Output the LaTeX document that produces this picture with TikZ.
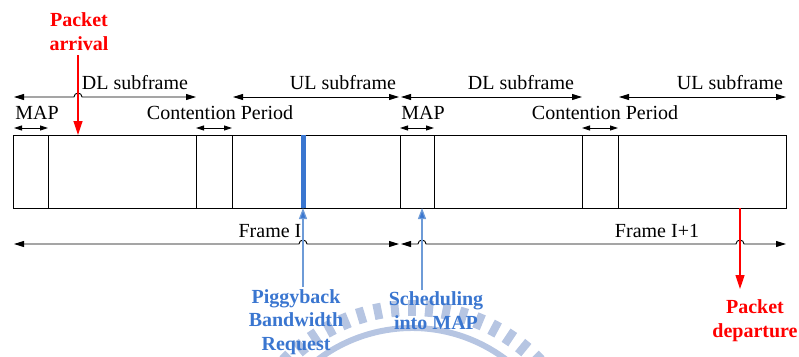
\documentclass[tikz,border=0pt]{standalone}
\usepackage{fontspec}
\setmainfont{Liberation Serif}
\usetikzlibrary{arrows.meta}
\definecolor{pktred}{RGB}{255,0,0}
\definecolor{reqblue}{RGB}{58,118,208}
\definecolor{reqline}{RGB}{110,155,215}
\definecolor{wmark}{RGB}{182,197,226}

\begin{document}
\begin{tikzpicture}[x=1pt,y=-1pt,
  lbl/.style={font={\fontsize{20}{24}\selectfont}, inner sep=0pt, anchor=base},
  note/.style={font={\bfseries\fontsize{20}{23.5}\selectfont}, inner sep=0pt, anchor=base, align=center},
  span/.style={line width=0.9pt, {Triangle[length=10pt,width=6pt]}-{Triangle[length=10pt,width=6pt]}},
  shortspan/.style={line width=0.9pt, {Triangle[length=8pt,width=5pt]}-{Triangle[length=8pt,width=5pt]}},
  cell/.style={draw, line width=1pt},
  redarrow/.style={draw=pktred, line width=1.2pt, -{Triangle[length=14pt,width=9pt]}, shorten >=0pt},
  bluearrow/.style={draw=reqline, line width=1.2pt, -{Triangle[length=11pt,width=8pt,fill=reqblue]}},
]
\useasboundingbox (0,0) rectangle (799,356);

% faded logo in the background
\begin{scope}
  \clip (0,0) rectangle (799,356);
  \foreach \i in {-9,...,9}
    \draw[wmark, line width=8pt] ([shift={(412,484)}]-90+\i*5.6:168) -- ([shift={(412,484)}]-90+\i*5.6:184);
  \draw[wmark, line width=6pt] ([shift={(412,484)}]-150:156) arc[start angle=-150, end angle=-30, radius=156];
\end{scope}

% frame cells
\coordinate (tl) at (13,135);
\coordinate (br) at (786,208);
\draw[cell] (tl) rectangle (br);
\foreach \x in {48,196,232,400,434,582,618}
  \draw[cell] (\x,135) -- (\x,208);

% piggyback request slot
\coordinate (bartop) at (303,135);
\coordinate (barbot) at (303,208);
\draw[reqblue, line width=5pt] (bartop) -- (barbot);

% subframe spans
\coordinate (dl1l) at (14,97);  \coordinate (dl1r) at (196,97);
\coordinate (ul1l) at (233,97); \coordinate (ul1r) at (399,97);
\coordinate (dl2l) at (401,97); \coordinate (dl2r) at (582,97);
\coordinate (ul2l) at (619,97); \coordinate (ul2r) at (786,97);
\draw[span] (dl1l) -- (74,97) arc[start angle=180, end angle=360, radius=4] -- (dl1r);
\draw[span] (ul1l) -- (ul1r);
\draw[span] (dl2l) -- (dl2r);
\draw[span] (ul2l) -- (ul2r);

\node[lbl] (dl1) at (135,89) {DL subframe};
\node[lbl] (ul1) at (343,89) {UL subframe};
\node[lbl] (dl2) at (521,89) {DL subframe};
\node[lbl] (ul2) at (730,89) {UL subframe};

% MAP and contention spans
\coordinate (m1l) at (14,128);  \coordinate (m1r) at (48,128);
\coordinate (c1l) at (196,128); \coordinate (c1r) at (232,128);
\coordinate (m2l) at (400,128); \coordinate (m2r) at (434,128);
\coordinate (c2l) at (582,128); \coordinate (c2r) at (618,128);
\draw[shortspan] (m1l) -- (m1r);
\draw[shortspan] (c1l) -- (c1r);
\draw[shortspan] (m2l) -- (m2r);
\draw[shortspan] (c2l) -- (c2r);

\node[lbl] (map1) at (37,119) {MAP};
\node[lbl] (cp1) at (220,119) {Contention Period};
\node[lbl] (map2) at (423,119) {MAP};
\node[lbl] (cp2) at (605,119) {Contention Period};

% frame spans
\coordinate (f1l) at (14,244);  \coordinate (f1r) at (399,244);
\coordinate (f2l) at (401,244); \coordinate (f2r) at (786,244);
\draw[span] (f1l) -- (299,244) arc[start angle=180, end angle=360, radius=4] -- (f1r);
\draw[span] (f2l) -- (418,244) arc[start angle=180, end angle=360, radius=4]
  -- (736,244) arc[start angle=180, end angle=360, radius=4] -- (f2r);

\node[lbl] (fr1) at (270,237) {Frame I};
\node[lbl] (fr2) at (657,237) {Frame I+1};

% events (multi-line labels are anchored at the baseline of their last line)
\node[note, text=pktred] (arr) at (79,50) {Packet\\arrival};
\coordinate (arrtop) at (78,55);
\coordinate (arrtip) at (78,135);
\draw[redarrow] (arrtop) -- (arrtip);

\node[note, text=pktred] (dep) at (755,337) {Packet\\departure};
\coordinate (deptop) at (740,208);
\coordinate (deptip) at (740,289);
\draw[redarrow] (deptop) -- (deptip);

\node[note, text=reqblue] (pig) at (296,350) {Piggyback\\Bandwidth\\Request};
\coordinate (pigbot) at (303,287);
\draw[bluearrow] (pigbot) -- (barbot);

\node[note, text=reqblue] (sch) at (436,329) {Scheduling\\into MAP};
\coordinate (schbot) at (422,290);
\coordinate (schtip) at (422,208);
\draw[bluearrow] (schbot) -- (schtip);
\end{tikzpicture}
\end{document}
